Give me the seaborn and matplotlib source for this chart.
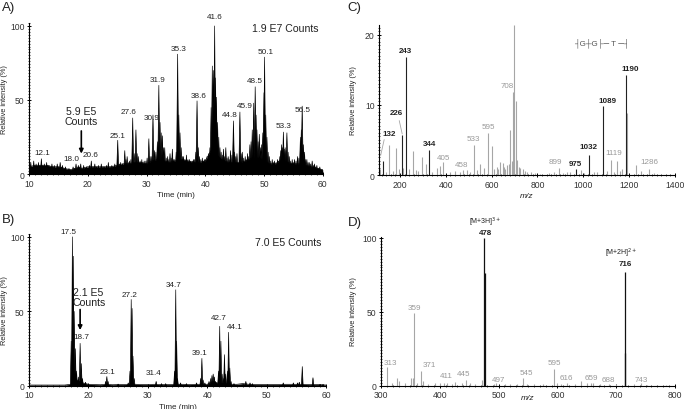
import matplotlib
matplotlib.use("Agg")
import matplotlib.pyplot as plt
from matplotlib.ticker import MultipleLocator
import seaborn as sns

sns.set_theme(style="ticks")
plt.rcParams['font.family'] = ['Liberation Sans', 'DejaVu Sans']
plt.rcParams['axes.linewidth'] = 0.8

# ---- A) chromatogram, 1.9 E7 counts ----
A_base_t = [10, 11, 12, 13, 14, 15, 16, 17, 18, 19, 20, 21, 22, 23, 24, 25, 26, 27, 28, 29,
            30, 31, 32, 33, 34, 35, 36, 37, 38, 39, 40, 41, 42, 43, 44, 45, 46, 47, 48, 49,
            50, 51, 52, 53, 54, 55, 56, 57, 58, 59, 60]
A_base_h = [5, 6, 6, 6, 5, 5, 4, 3, 4, 4, 5, 5, 5, 5, 5, 6, 7, 7, 8, 8,
            7, 9, 10, 9, 8, 9, 10, 9, 8, 8, 9, 16, 13, 9, 8, 8, 8, 9, 11, 11,
            9, 7, 7, 10, 8, 7, 7, 6, 5, 4, 3]
A_peak_t = [10.1, 10.3, 10.55, 10.8, 11.0, 11.2, 11.4, 11.6, 11.85, 12.1, 12.35, 12.6, 12.8, 13.0,
            13.2, 13.4, 13.65, 13.9, 14.1, 14.3, 14.55, 14.8, 15.05, 15.3, 15.5, 15.7, 15.95, 16.2,
            16.5, 16.8, 17.1, 17.5, 17.75, 18.0, 18.2, 18.4, 18.6, 18.8, 19.05, 19.3, 19.55, 19.8,
            20.05, 20.3, 20.6, 20.9, 21.2, 21.5, 21.8, 22.05, 22.3, 22.6, 22.9, 23.2, 23.5, 23.8,
            24.1, 24.35, 24.6, 24.85, 25.1, 25.35, 25.6, 25.9, 26.3, 26.5, 26.7, 26.9, 27.1, 27.35,
            27.65, 27.9, 28.2, 28.4, 28.6, 28.9, 29.2, 29.4, 29.6, 29.9, 30.1, 30.4, 30.6, 30.8,
            31.1, 31.35, 31.6, 31.85, 32.1, 32.3, 32.5, 32.7, 32.9, 33.1, 33.35, 33.6, 33.8, 34.0,
            34.2, 34.4, 34.6, 34.8, 35.05, 35.3, 35.5, 35.7, 35.9, 36.1, 36.3, 36.55, 36.8, 37.05,
            37.3, 37.55, 37.8, 38.0, 38.2, 38.4, 38.6, 38.8, 39.0, 39.25, 39.5, 39.7, 39.9, 40.1,
            40.3, 40.55, 40.8, 41.0, 41.2, 41.4, 41.6, 41.75, 41.9, 42.1, 42.3, 42.5, 42.7, 42.9,
            43.1, 43.3, 43.5, 43.7, 43.9, 44.1, 44.3, 44.55, 44.8, 45.0, 45.2, 45.4, 45.9, 46.1,
            46.3, 46.55, 46.8, 47.0, 47.2, 47.4, 47.6, 47.8, 48.0, 48.25, 48.5, 48.65, 48.8, 49.0,
            49.2, 49.4, 49.6, 49.8, 50.0, 50.1, 50.3, 50.5, 50.7, 50.9, 51.15, 51.4, 51.6, 51.8,
            52.05, 52.3, 52.5, 52.7, 52.85, 53.0, 53.15, 53.3, 53.45, 53.6, 53.75, 53.9, 54.1, 54.3,
            54.55, 54.8, 55.0, 55.2, 55.45, 55.7, 55.95, 56.2, 56.35, 56.5, 56.7, 56.9, 57.1, 57.3,
            57.5, 57.7, 57.95, 58.2, 58.4, 58.6, 58.8, 59.0, 59.25, 59.5, 59.75]
A_peak_h = [6, 8, 5, 9, 6, 7, 5, 8, 6, 10.5, 6, 7, 5, 8,
            6, 6, 5, 7, 5, 6, 4, 7, 5, 8, 5, 6, 4, 5,
            3, 4, 3, 5, 4, 7, 5, 6, 5, 7, 4, 6, 4, 5,
            4, 6, 9, 5, 7, 5, 6, 4, 7, 5, 5, 6, 8, 5,
            6, 5, 7, 5, 23, 7, 8, 7, 16, 10, 12, 8, 9, 10,
            38, 14, 30, 14, 12, 9, 10, 8, 9, 9, 11, 24, 12, 12,
            40, 16, 15, 22, 60, 35, 28, 26, 18, 18, 11, 12, 10, 14,
            11, 17, 10, 10, 15, 81, 40, 28, 18, 12, 12, 10, 13, 10,
            10, 9, 9, 10, 10, 15, 49.5, 18, 12, 10, 11, 9, 10, 10,
            12, 14, 18, 45, 73, 70, 100, 65, 52, 35, 25, 18, 15, 13,
            17, 12, 18, 11, 12, 10, 16, 13, 36, 15, 12, 14, 42, 14,
            15, 11, 12, 10, 14, 12, 20, 22, 30, 48, 59, 40, 30, 22,
            27, 18, 20, 28, 55, 79, 40, 25, 15, 12, 9, 10, 8, 9,
            8, 10, 9, 12, 16, 20, 18, 28.5, 17, 18, 16, 28, 15, 12,
            9, 10, 8, 10, 9, 12, 11, 25, 30, 46, 20, 15, 10, 10,
            8, 8, 7, 9, 6, 7, 5, 6, 4, 5, 3]
A_labels = ["12.1", "18.0", "20.6", "25.1", "27.6", "30.9", "31.9", "35.3",
            "38.6", "41.6", "44.8", "45.9", "48.5", "50.1", "53.3", "56.5"]
A_label_t = [12.2, 17.3, 20.55, 25.0, 26.9, 30.9, 31.85, 35.4,
             38.8, 41.55, 44.2, 46.8, 48.5, 50.3, 53.4, 56.6]
A_label_y = [14.3, 10.7, 13.6, 26.4, 42.1, 38.3, 63.5, 84.4,
             52.9, 106.4, 39.9, 46.6, 63.3, 82.8, 32.7, 43.5]

# ---- B) chromatogram, 7.0 E5 counts ----
B_base_t = A_base_t
B_base_h = [0.5, 0.5, 0.5, 0.5, 0.5, 0.5, 0.5, 1, 4, 2,
            1, 0.8, 0.7, 1, 0.7, 0.8, 0.8, 1, 1, 0.8,
            0.8, 1, 0.8, 0.8, 0.8, 1, 1, 0.8, 1, 1,
            1, 3, 1.5, 1.5, 1, 1, 1.5, 1, 0.8, 0.8,
            0.8, 0.8, 0.8, 1, 1, 1, 1, 0.8, 0.8, 0.8, 0.5]
B_peak_t = [17.1, 17.3, 17.45, 17.6, 17.8, 18.0, 18.3, 18.6, 18.8, 19.0, 19.5, 20.0,
            22.9, 23.1, 23.3, 25.0, 26.7, 27.0, 27.2, 27.35, 27.5, 27.7, 31.4, 32.3, 33.0,
            34.5, 34.7, 34.85, 35.0, 35.5, 36.5, 38.2, 38.9, 39.1, 39.3, 39.6, 40.3, 40.6,
            40.8, 41.0, 41.2, 41.4, 41.9, 42.1, 42.3, 42.5, 42.7, 42.9, 43.1, 43.4, 43.6,
            43.8, 44.0, 44.5, 46.5, 47.2, 47.6, 52.8, 54.5, 55.2, 55.5, 56.0, 57.8, 59.0, 59.5]
B_peak_h = [30, 100, 87, 50, 25, 10, 6, 28.6, 15, 5, 2.5, 1.5,
            3, 6.3, 3, 1.2, 2, 10, 58, 52, 20, 5, 3, 1.5, 1.5,
            10, 64.5, 30, 5, 2, 1.5, 2, 5, 18.5, 4, 2, 3, 5,
            7, 8, 6, 3, 10, 40, 30, 8, 5, 21, 8, 10, 36,
            12, 3, 1.5, 3, 2, 1.5, 2, 2, 2, 2.5, 13, 5.5, 1, 1]
B_labels = ["17.5", "18.7", "23.1", "27.2", "31.4", "34.7", "39.1", "42.7", "44.1"]
B_label_t = [16.6, 18.87, 23.2, 26.9, 31.0, 34.3, 38.7, 42.0, 44.7]
B_label_y = [103.7, 33.2, 9.5, 61.1, 8.6, 68.1, 22.0, 46.0, 39.7]

# ---- C) MS/MS spectrum ----
C_black_mz = [127, 210, 225, 328, 967, 1026, 1085.5, 1187.6]
C_black_h = [2.0, 5.7, 16.9, 3.5, 0.9, 2.9, 9.8, 14.2]
C_gray_mz = [115, 140, 153, 170, 183, 195, 215, 240, 258, 270, 280, 295, 314, 340, 360, 375,
             390, 420, 440, 460, 477, 492, 505, 521, 535, 550, 565, 584, 601, 612, 623, 630,
             638, 648, 655, 660, 668, 675, 681, 687, 693, 699, 705, 712, 718, 725, 735, 745,
             754, 770, 790, 813, 850, 871, 893, 910, 930, 944, 988, 1005, 1046, 1060, 1105,
             1119, 1135, 1148, 1160, 1170, 1189, 1228, 1250, 1287, 1308]
C_gray_h = [0.8, 0.5, 4.3, 0.6, 3.9, 0.9, 1.0, 0.8, 3.4, 0.7, 0.6, 2.6, 1.6, 0.5, 1.0, 1.3,
            1.9, 0.5, 0.6, 0.4, 0.7, 0.7, 0.5, 4.3, 0.7, 1.5, 1.0, 6.0, 4.2, 0.9, 1.2, 0.8,
            1.8, 1.7, 1.2, 0.9, 1.4, 1.6, 6.4, 2.0, 11.9, 21.4, 10.6, 2.2, 1.2, 1.0, 0.9, 0.6,
            0.4, 0.4, 0.3, 0.2, 0.3, 0.4, 1.05, 0.3, 0.4, 0.4, 0.7, 0.3, 0.5, 0.4, 0.6,
            2.1, 0.5, 2.0, 0.6, 0.9, 8.8, 1.4, 0.6, 0.8, 0.3]
C_labels = ["132", "226", "243", "344", "975", "1032", "1089", "1190"]
C_label_mz = [153, 185.5, 224.8, 331, 967, 1024, 1104.5, 1203.6]
C_label_y = [5.86, 8.95, 17.7, 4.43, 1.67, 4.1, 10.67, 15.24]
C_glabels = ["405", "458", "533", "595", "708", "899", "1119", "1286"]
C_glabel_mz = [389.6, 470, 521, 584, 667, 878, 1133.5, 1286.8]
C_glabel_y = [2.52, 1.43, 5.14, 6.9, 12.7, 1.9, 3.24, 1.9]

# ---- D) MS spectrum ----
D_black_mz = [476, 476.8, 715, 715.8]
D_black_h = [100, 76, 77, 22]
D_gray_mz = [310.7, 318, 326.7, 331, 340, 350.5, 354, 356, 362, 368, 371, 380, 392, 400, 407,
             412, 420, 426, 437, 444.6, 452, 460, 471, 492, 496, 511, 520, 530.8, 542, 548,
             560, 576, 593.7, 598.8, 606, 615.8, 630, 639.6, 650, 657.7, 661, 672, 687, 700,
             730, 742, 752, 770, 785]
D_gray_h = [12.6, 1.5, 5, 3, 1.5, 5, 5, 49, 2, 9.8, 3, 1, 2, 2, 2,
            2, 1, 2.5, 2, 3.4, 1.5, 1, 4, 1, 1.5, 1, 0.8, 1, 4.8, 1,
            0.8, 1, 11.4, 2, 1, 2, 1, 3, 2, 2, 1.5, 1, 1, 0.8,
            0.8, 1.5, 0.5, 0.5, 0.5]
D_glabels = ["359", "313", "371", "411", "445", "497", "545", "595", "616", "659", "688", "743"]
D_glabel_mz = [356, 316.5, 382, 410.5, 441, 500, 547.8, 594, 615.8, 658.3, 686.6, 743.4]
D_glabel_y = [53, 15.7, 14.1, 6.6, 8.3, 4.4, 8.9, 15.3, 5.6, 5.6, 4.4, 4.4]

GRAY = '#a6a6a6'
GRAY_TXT = '#999999'
TICK_TXT = '#333333'


def style_axes(ax, xmaj, xmin, ymaj, ymin):
    sns.despine(ax=ax)
    ax.xaxis.set_major_locator(MultipleLocator(xmaj))
    ax.xaxis.set_minor_locator(MultipleLocator(xmin))
    ax.yaxis.set_major_locator(MultipleLocator(ymaj))
    ax.yaxis.set_minor_locator(MultipleLocator(ymin))
    ax.tick_params(which='major', direction='inout', length=3.5, width=0.7, pad=1.5,
                   labelsize=6.2, labelcolor=TICK_TXT, color='black')
    ax.tick_params(which='minor', direction='inout', length=2, width=0.5, color='black')
    for s in ['left', 'bottom']:
        ax.spines[s].set_color('black')
        ax.spines[s].set_linewidth(0.8)
    ax.set_facecolor('none')


def draw_chrom(ax, base_t, base_h, peak_t, peak_h, hw):
    sns.lineplot(x=base_t, y=base_h, ax=ax, color='black', lw=0.5, estimator=None)
    ax.fill_between(base_t, 0, base_h, color='black', lw=0)
    for t, h in zip(peak_t, peak_h):
        ax.fill([t - hw, t, t + hw], [0, h, 0], color='black', lw=0.45)


fig = plt.figure(figsize=(6.88, 4.10), dpi=100)

# Panel A
axA = fig.add_axes([0.0422, 0.5727, 0.4269, 0.3693])
draw_chrom(axA, A_base_t, A_base_h, A_peak_t, A_peak_h, 0.2)
axA.set_xlim(10, 60)
axA.set_ylim(0, 102)
style_axes(axA, 10, 1, 50, 2)
for lab, t, y in zip(A_labels, A_label_t, A_label_y):
    axA.text(t, y, lab, ha='center', va='center', fontsize=5.9, color='#222222', clip_on=False)
axA.text(53.6, 98.4, "1.9 E7 Counts", ha='center', va='center', fontsize=7.6, color='#222222')
axA.text(18.85, 39, "5.9 E5\nCounts", ha='center', va='center', fontsize=7.6,
         color='#222222', linespacing=1.0)
axA.annotate("", xy=(18.9, 12), xytext=(18.9, 31),
             arrowprops=dict(arrowstyle='-|>', color='black', lw=1.2, mutation_scale=6))
axA.set_xlabel("Time (min)", fontsize=5.8, color='#222222')
axA.set_ylabel("Relative intensity (%)", fontsize=5.3, color='#222222')
axA.xaxis.set_label_coords(0.5, -0.11)
axA.yaxis.set_label_coords(-0.072, 0.5)

# Panel B
axB = fig.add_axes([0.0422, 0.0566, 0.4317, 0.3710])
draw_chrom(axB, B_base_t, B_base_h, B_peak_t, B_peak_h, 0.15)
axB.set_xlim(10, 60)
axB.set_ylim(0, 102)
style_axes(axB, 10, 1, 50, 2)
for lab, t, y in zip(B_labels, B_label_t, B_label_y):
    axB.text(t, y, lab, ha='center', va='center', fontsize=5.9, color='#222222', clip_on=False)
axB.text(53.6, 96.4, "7.0 E5 Counts", ha='center', va='center', fontsize=7.6, color='#222222')
axB.text(17.4, 59.8, "2.1 E5\nCounts", ha='left', va='center', fontsize=7.6,
         color='#222222', linespacing=1.0)
axB.annotate("", xy=(18.6, 35.5), xytext=(18.6, 53),
             arrowprops=dict(arrowstyle='-|>', color='black', lw=1.2, mutation_scale=6))
axB.set_xlabel("Time (min)", fontsize=5.8, color='#222222')
axB.set_ylabel("Relative intensity (%)", fontsize=5.3, color='#222222')
axB.xaxis.set_label_coords(0.5, -0.11)
axB.yaxis.set_label_coords(-0.072, 0.5)

# Panel C
axC = fig.add_axes([0.5513, 0.5707, 0.4298, 0.3659])
axC.vlines(C_gray_mz, 0, C_gray_h, colors=GRAY, lw=0.8)
axC.vlines(C_black_mz, 0, C_black_h, colors='#222222', lw=0.8)
axC.set_xlim(110, 1400)
axC.set_ylim(0, 21.4)
style_axes(axC, 200, 20, 10, 0.5)
for lab, x, y in zip(C_labels, C_label_mz, C_label_y):
    axC.text(x, y, lab, ha='center', va='center', fontsize=5.8, fontweight='bold', color='#222222')
for lab, x, y in zip(C_glabels, C_glabel_mz, C_glabel_y):
    axC.text(x, y, lab, ha='center', va='center', fontsize=5.8, color=GRAY_TXT)
axC.plot([131.3, 116], [5.05, 2.8], color=GRAY, lw=0.6)
axC.plot([197, 210], [7.76, 5.86], color=GRAY, lw=0.6)
axC.text(1079, 18.95, "┤G┼G├─ T ─┤", ha='center', va='center', fontsize=5.8,
         color='#555555', family=['Liberation Sans', 'DejaVu Sans'])
axC.set_xlabel("m/z", fontsize=6, style='italic', color='#222222')
axC.set_ylabel("Relative intensity (%)", fontsize=5.3, color='#222222')
axC.xaxis.set_label_coords(0.5, -0.115)
axC.yaxis.set_label_coords(-0.075, 0.5)

# Panel D
axD = fig.add_axes([0.5538, 0.0573, 0.4273, 0.3634])
axD.vlines(D_gray_mz, 0, D_gray_h, colors=GRAY, lw=0.8)
axD.vlines(D_black_mz, 0, D_black_h, colors='#111111', lw=0.9)
axD.set_xlim(300, 800)
axD.set_ylim(0, 101)
style_axes(axD, 100, 10, 50, 2)
for lab, x, y in zip(D_glabels, D_glabel_mz, D_glabel_y):
    axD.text(x, y, lab, ha='center', va='center', fontsize=5.8, color=GRAY_TXT)
axD.text(476.9, 111.5, r"[M+3H]$^{3+}$", ha='center', va='center', fontsize=5.0,
         color='#222222', clip_on=False)
axD.text(476.9, 104, "478", ha='center', va='center', fontsize=5.8, fontweight='bold',
         color='#222222', clip_on=False)
axD.text(709, 90, r"[M+2H]$^{2+}$", ha='center', va='center', fontsize=5.0, color='#222222')
axD.text(715, 82.5, "716", ha='center', va='center', fontsize=5.8, fontweight='bold',
         color='#222222')
axD.set_xlabel("m/z", fontsize=6, style='italic', color='#222222')
axD.set_ylabel("Relative intensity (%)", fontsize=5.3, color='#222222')
axD.xaxis.set_label_coords(0.5, -0.06)
axD.yaxis.set_label_coords(-0.082, 0.5)

# panel letters
fig.text(0.003, 0.995, "A)", fontsize=9.5, va='top', ha='left', color='#222222')
fig.text(0.003, 0.478, "B)", fontsize=9.5, va='top', ha='left', color='#222222')
fig.text(0.505, 0.995, "C)", fontsize=9.5, va='top', ha='left', color='#222222')
fig.text(0.505, 0.470, "D)", fontsize=9.5, va='top', ha='left', color='#222222')

fig.savefig("out.png", dpi=100)
